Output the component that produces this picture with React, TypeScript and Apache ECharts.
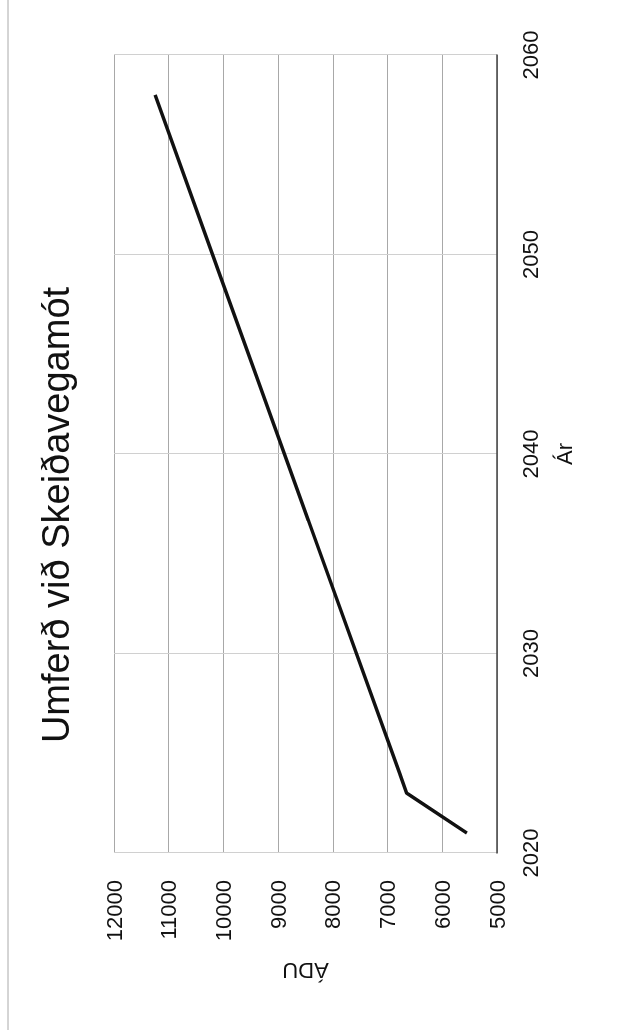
import React, { useEffect, useRef } from "react";
import * as echarts from "echarts";

const TITLE = "Umferð við Skeiðavegamót";
const X_NAME = "Ár";
const Y_NAME = "ÁDU";
const years = [2021, 2023, 2058];
const adu = [5550, 6650, 11250];

const FONT = "'Liberation Sans', Arial, sans-serif";

export default function App() {
  const ref = useRef<HTMLDivElement>(null);
  useEffect(() => {
    if (!ref.current) return;
    const chart = echarts.init(ref.current, undefined, { renderer: "svg" });
    chart.setOption({
      animation: false,
      backgroundColor: "#ffffff",
      textStyle: { fontFamily: FONT },
      title: {
        text: TITLE,
        left: "center",
        top: 32,
        textStyle: { fontSize: 38, fontWeight: "normal", color: "#111", fontFamily: FONT },
      },
      grid: { left: 177, right: 55, top: 114, bottom: 124, containLabel: false },
      xAxis: {
        type: "value",
        min: 2020,
        max: 2060,
        interval: 10,
        name: X_NAME,
        nameLocation: "middle",
        nameGap: 56,
        nameTextStyle: { fontSize: 22, color: "#111", fontFamily: FONT },
        axisLine: { show: true, lineStyle: { color: "#444", width: 1.5 } },
        axisTick: { show: false },
        axisLabel: {
          fontSize: 22,
          color: "#111",
          margin: 22,
          fontFamily: FONT,
          formatter: (v: number) => String(v),
        },
        splitLine: { show: true, lineStyle: { color: "#d0d0d0", width: 1 } },
      },
      yAxis: {
        type: "value",
        min: 5000,
        max: 12000,
        interval: 1000,
        name: Y_NAME,
        nameLocation: "middle",
        nameGap: 107,
        nameTextStyle: { fontSize: 22, color: "#111", fontFamily: FONT },
        axisLine: { show: false },
        axisTick: { show: false },
        axisLabel: {
          fontSize: 22,
          color: "#111",
          margin: 27,
          fontFamily: FONT,
          formatter: (v: number) => String(v),
        },
        splitLine: { show: true, lineStyle: { color: "#a8a8a8", width: 1 } },
      },
      graphic: [
        {
          type: "line",
          shape: { x1: 0, y1: 8, x2: 1030, y2: 8 },
          style: { stroke: "#aaaaaa", lineWidth: 1 },
        },
      ],
      series: [
        {
          type: "line",
          data: years.map((y, i) => [y, adu[i]]),
          showSymbol: false,
          symbol: "none",
          lineStyle: { color: "#111", width: 3.5 },
        },
      ],
    });
    return () => chart.dispose();
  }, []);
  return (
    <div
      ref={ref}
      style={{
        position: "fixed",
        left: 0,
        top: 0,
        width: 1030,
        height: 621,
        transformOrigin: "top left",
        transform: "rotate(-90deg) translateX(-100%)",
      }}
    />
  );
}
